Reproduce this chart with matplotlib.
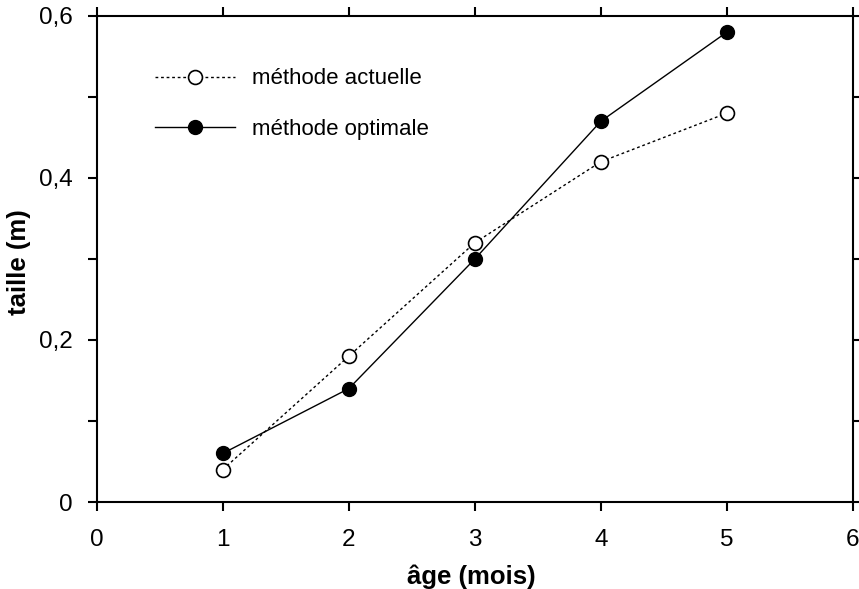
import numpy as np
import matplotlib.pyplot as plt
from matplotlib.ticker import MultipleLocator, FuncFormatter

# --- Data ---
age = [1, 2, 3, 4, 5]
taille_actuelle = [0.04, 0.18, 0.32, 0.42, 0.48]
taille_optimale = [0.06, 0.14, 0.30, 0.47, 0.58]

plt.rcParams['font.family'] = ['Liberation Sans', 'DejaVu Sans']

fig = plt.figure(figsize=(8.59, 5.89), dpi=100)
ax = fig.add_axes([0.1126, 0.1477, 0.8804, 0.8253])

ax.plot(age, taille_actuelle, color='black', linestyle=(0, (2, 2)), linewidth=1,
        marker='o', markersize=10, markerfacecolor='white', markeredgecolor='black',
        markeredgewidth=1.2, label='méthode actuelle')
ax.plot(age, taille_optimale, color='black', linestyle='-', linewidth=1,
        marker='o', markersize=10, markerfacecolor='black', markeredgecolor='black',
        label='méthode optimale')

ax.set_xlim(0, 6)
ax.set_ylim(0, 0.6)
ax.xaxis.set_major_locator(MultipleLocator(1))
ax.yaxis.set_major_locator(MultipleLocator(0.2))
ax.yaxis.set_minor_locator(MultipleLocator(0.1))
ax.yaxis.set_major_formatter(FuncFormatter(lambda v, p: f"{v:g}".replace('.', ',')))

ax.tick_params(axis='both', which='both', labelsize=17.5, width=1.5, color='black',
               length=6.5, direction='out', top=True, right=True)
ax.tick_params(axis='x', which='major', pad=13)
ax.tick_params(axis='y', which='major', pad=11)
for s in ax.spines.values():
    s.set_linewidth(1.5)

ax.set_xlabel('âge (mois)', fontsize=18.5, fontweight='bold')
ax.set_ylabel('taille (m)', fontsize=18.5, fontweight='bold')
ax.xaxis.set_label_coords(0.4955, -0.128)
ax.yaxis.set_label_coords(-0.087, 0.494)

ax.legend(loc='upper left', bbox_to_anchor=(0.0775, 0.892), frameon=False,
          borderpad=0, borderaxespad=0, fontsize=16, handlelength=3.6,
          labelspacing=1.33, handletextpad=0.75)

fig.savefig('out.png', dpi=100)
